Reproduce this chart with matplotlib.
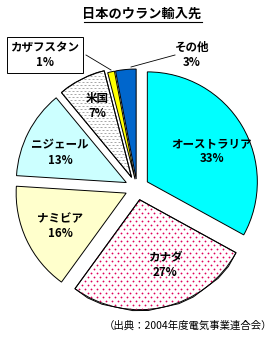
import matplotlib
matplotlib.use("Agg")
from matplotlib import pyplot as plt
import numpy as np

plt.rcParams['font.family'] = ['Noto Sans CJK JP', 'DejaVu Sans']

# data, clockwise from 12 o'clock
countries = ["オーストラリア", "カナダ", "ナミビア", "ニジェール", "米国", "カザフスタン", "その他"]
shares = [33, 27, 16, 13, 7, 1, 3]
face_colors = ["#00FFFF", "#FFFFFF", "#FFFFCC", "#CCFFFF", "#FFFFFF", "#FFFF00", "#0066CC"]

W, H = 278, 337
fig = plt.figure(figsize=(W / 100, H / 100), dpi=100)
ax = fig.add_axes([0, 0, 1, 1])

center = (137, H - 188)
radius = 110
# pie offsets are in data units here (pixels)
explode = [12, 12, 12, 12, 12, 9, 9]

wedges, _ = ax.pie(shares, colors=face_colors, startangle=90, counterclock=False,
                   explode=explode, center=center, radius=radius,
                   wedgeprops=dict(linewidth=0.7, edgecolor="black"))

ax.set_xlim(0, W)
ax.set_ylim(0, H)
ax.set_aspect("equal")
ax.axis("off")


def texture(wedge, dx, dy, **kw):
    """fill a wedge with a staggered grid of small marks, clipped to the wedge"""
    rows = []
    for i, y in enumerate(np.arange(0.5, H, dy)):
        off = (dx / 2) if i % 2 else 0
        xs = np.arange(0.5 + off, W, dx)
        rows.append((xs, np.full_like(xs, y)))
    xs = np.concatenate([r[0] for r in rows])
    ys = np.concatenate([r[1] for r in rows])
    line, = ax.plot(xs, ys, linestyle="none", zorder=wedge.get_zorder() + 0.1, **kw)
    line.set_clip_path(wedge)


# Canada: pink dots
texture(wedges[1], 6, 4, marker="o", markersize=1.3, markeredgewidth=0,
        markerfacecolor="#E0005A")
# US: short grey dashes
texture(wedges[4], 4, 3, marker="_", markersize=1.6, markeredgewidth=0.7,
        markeredgecolor="#A8A8A8")

# redraw outlines on top of textures
for w in [wedges[1], wedges[4]]:
    ax.add_patch(plt.Polygon(w.get_path().vertices, closed=True, fill=False,
                             edgecolor="black", linewidth=0.7, zorder=3))

# labels inside slices
label_pos = {
    "オーストラリア": (212, 151),
    "カナダ": (165, 265),
    "ナミビア": (60, 226),
    "ニジェール": (60, 153),
    "米国": (97, 106),
}
for name, val in zip(countries, shares):
    if name in label_pos:
        x, y = label_pos[name]
        ax.text(x, H - y, f"{name}\n{val}%", ha="center", va="center",
                fontsize=8.3, fontweight="bold", linespacing=1.25, zorder=5)

# Kazakhstan boxed label with leader
ax.text(45, H - 55, f"{countries[5]}\n{shares[5]}%", ha="center", va="center",
        fontsize=8.3, fontweight="bold", linespacing=1.25,
        bbox=dict(boxstyle="square,pad=0.3", facecolor="white", edgecolor="black", linewidth=0.7))
ax.plot([86, 111], [H - 55, H - 70], color="black", linewidth=0.6)

# other label with leader
ax.text(192, H - 55, f"{countries[6]}\n{shares[6]}%", ha="center", va="center",
        fontsize=8.3, fontweight="bold", linespacing=1.25)
ax.plot([175, 131], [H - 55, H - 67], color="black", linewidth=0.6)

# title and source
fig.text(142 / W, 1 - 14 / H, "日本のウラン輸入先", ha="center", va="center",
         fontsize=9.5, fontweight="bold")
ax.plot([84, 202], [H - 22, H - 22], color="black", linewidth=0.8)
fig.text(272 / W, 1 - 326 / H, "（出典：2004年度電気事業連合会）", ha="right", va="center",
         fontsize=7.5)

fig.savefig("out.png", dpi=100)
